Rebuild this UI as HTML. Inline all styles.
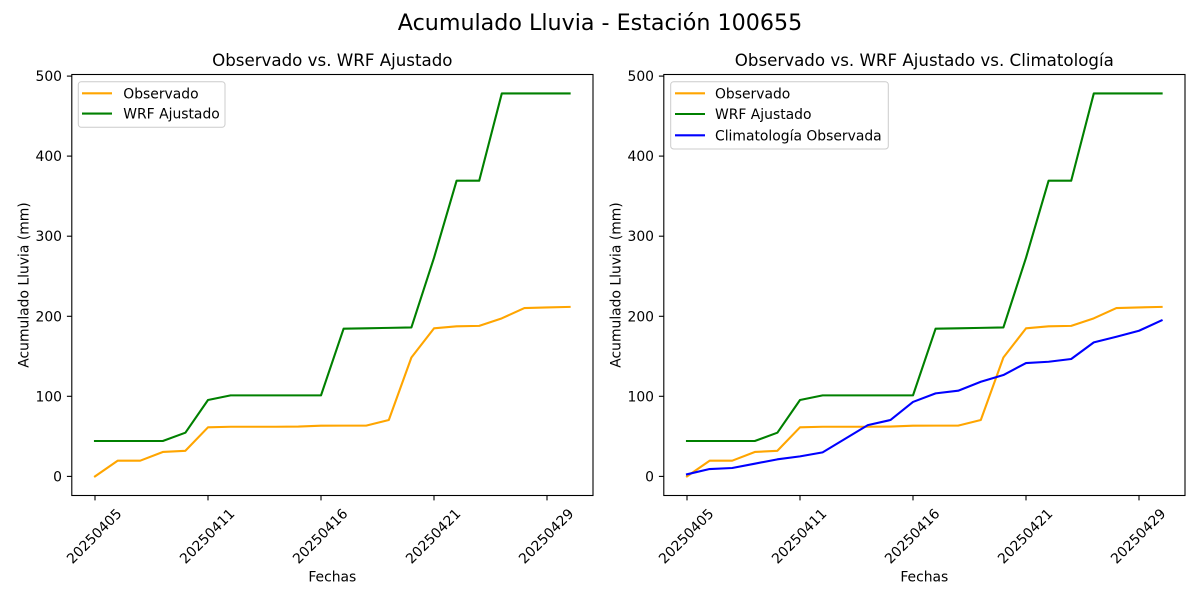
<!DOCTYPE html>
<html><head><meta charset="utf-8"><style>
html,body{margin:0;padding:0;background:#fff;}
svg{display:block;font-family:"DejaVu Sans","Liberation Sans",sans-serif;}
</style></head><body>
<svg width="1200" height="600" viewBox="0 0 1200 600" xmlns="http://www.w3.org/2000/svg">
<rect width="1200" height="600" fill="#fff"/>
<text x="600" y="30" font-size="22.2" text-anchor="middle" fill="#000">Acumulado Lluvia - Estación 100655</text>

<!-- LEFT AXES -->
<text x="332.3" y="66" font-size="16.67" text-anchor="middle">Observado vs. WRF Ajustado</text>
<defs>
<clipPath id="cl"><rect x="71.5" y="74.5" width="521.5" height="421"/></clipPath>
<clipPath id="cr"><rect x="663.5" y="74.5" width="521.5" height="421"/></clipPath>
</defs>
<g clip-path="url(#cl)">
<g transform="matrix(22.6 0 0 -0.8007 95 476.4)" fill="none" stroke-width="2.1" stroke-linejoin="round" stroke-linecap="square">
<polyline vector-effect="non-scaling-stroke" stroke="#FFA500" points="0,0 1,19.6 2,19.6 3,30.5 4,32 5,61.3 6,62 7,62 8,62 9,62.2 10,63.3 11,63.4 12,63.4 13,70.4 14,148.5 15,184.9 16,187.5 17,188 18,197.4 19,210.2 20,211 21,211.7"/>
<polyline vector-effect="non-scaling-stroke" stroke="#008000" points="0,44.2 1,44.2 2,44.2 3,44.2 4,54.6 5,95.4 6,101.2 7,101.2 8,101.2 9,101.2 10,101.2 11,184.5 12,185 13,185.5 14,186 15,273 16,369.3 17,369.3 18,478.3 19,478.3 20,478.3 21,478.3"/>
</g>
</g>
<rect x="71.8" y="74.5" width="521.2" height="421" fill="none" stroke="#000" stroke-width="1.1"/>
<g stroke="#000" stroke-width="1.1">
<line x1="95" y1="495.5" x2="95" y2="500.4"/>
<line x1="208" y1="495.5" x2="208" y2="500.4"/>
<line x1="321" y1="495.5" x2="321" y2="500.4"/>
<line x1="434" y1="495.5" x2="434" y2="500.4"/>
<line x1="547" y1="495.5" x2="547" y2="500.4"/>
<line x1="66.9" y1="476.4" x2="71.8" y2="476.4"/>
<line x1="66.9" y1="396.3" x2="71.8" y2="396.3"/>
<line x1="66.9" y1="316.3" x2="71.8" y2="316.3"/>
<line x1="66.9" y1="236.2" x2="71.8" y2="236.2"/>
<line x1="66.9" y1="156.1" x2="71.8" y2="156.1"/>
<line x1="66.9" y1="76.1" x2="71.8" y2="76.1"/>
</g>
<g font-size="13.9" text-anchor="end">
<text x="62" y="481.4">0</text>
<text x="62" y="401.3">100</text>
<text x="62" y="321.3">200</text>
<text x="62" y="241.2">300</text>
<text x="62" y="161.1">400</text>
<text x="62" y="81.1">500</text>
</g>
<g font-size="13.9" text-anchor="middle">
<text transform="translate(94,536) rotate(-45)" y="5">20250405</text>
<text transform="translate(207,536) rotate(-45)" y="5">20250411</text>
<text transform="translate(320,536) rotate(-45)" y="5">20250416</text>
<text transform="translate(433,536) rotate(-45)" y="5">20250421</text>
<text transform="translate(546,536) rotate(-45)" y="5">20250429</text>
<text x="332.3" y="581.7">Fechas</text>
<text transform="translate(28.5,285) rotate(-90)">Acumulado Lluvia (mm)</text>
</g>
<rect x="78.3" y="81.7" width="146.7" height="45.6" rx="3" fill="#fff" fill-opacity="0.8" stroke="#cccccc" stroke-width="1"/>
<line x1="82" y1="93.3" x2="112" y2="93.3" stroke="#FFA500" stroke-width="2.1"/>
<line x1="82" y1="113.6" x2="112" y2="113.6" stroke="#008000" stroke-width="2.1"/>
<g font-size="13.9">
<text x="123.3" y="98.3">Observado</text>
<text x="123.3" y="118.6">WRF Ajustado</text>
</g>

<!-- RIGHT AXES -->
<text x="924.3" y="66" font-size="16.67" text-anchor="middle">Observado vs. WRF Ajustado vs. Climatología</text>
<g clip-path="url(#cr)">
<g transform="matrix(22.6 0 0 -0.8007 687 476.4)" fill="none" stroke-width="2.1" stroke-linejoin="round" stroke-linecap="square">
<polyline vector-effect="non-scaling-stroke" stroke="#FFA500" points="0,0 1,19.6 2,19.6 3,30.5 4,32 5,61.3 6,62 7,62 8,62 9,62.2 10,63.3 11,63.4 12,63.4 13,70.4 14,148.5 15,184.9 16,187.5 17,188 18,197.4 19,210.2 20,211 21,211.7"/>
<polyline vector-effect="non-scaling-stroke" stroke="#008000" points="0,44.2 1,44.2 2,44.2 3,44.2 4,54.6 5,95.4 6,101.2 7,101.2 8,101.2 9,101.2 10,101.2 11,184.5 12,185 13,185.5 14,186 15,273 16,369.3 17,369.3 18,478.3 19,478.3 20,478.3 21,478.3"/>
<polyline vector-effect="non-scaling-stroke" stroke="#0000FF" points="0,2.6 1,9.2 2,10.5 3,15.9 4,21.3 5,25 6,30 7,47 8,64 9,70.4 10,93 11,103.7 12,107 13,118.2 14,126.6 15,141.6 16,143.2 17,146.6 18,167.4 19,174.4 20,181.9 21,194.9"/>
</g>
</g>
<rect x="663.8" y="74.5" width="521.2" height="421" fill="none" stroke="#000" stroke-width="1.1"/>
<g stroke="#000" stroke-width="1.1">
<line x1="687" y1="495.5" x2="687" y2="500.4"/>
<line x1="800" y1="495.5" x2="800" y2="500.4"/>
<line x1="913" y1="495.5" x2="913" y2="500.4"/>
<line x1="1026" y1="495.5" x2="1026" y2="500.4"/>
<line x1="1139" y1="495.5" x2="1139" y2="500.4"/>
<line x1="658.9" y1="476.4" x2="663.8" y2="476.4"/>
<line x1="658.9" y1="396.3" x2="663.8" y2="396.3"/>
<line x1="658.9" y1="316.3" x2="663.8" y2="316.3"/>
<line x1="658.9" y1="236.2" x2="663.8" y2="236.2"/>
<line x1="658.9" y1="156.1" x2="663.8" y2="156.1"/>
<line x1="658.9" y1="76.1" x2="663.8" y2="76.1"/>
</g>
<g font-size="13.9" text-anchor="end">
<text x="654" y="481.4">0</text>
<text x="654" y="401.3">100</text>
<text x="654" y="321.3">200</text>
<text x="654" y="241.2">300</text>
<text x="654" y="161.1">400</text>
<text x="654" y="81.1">500</text>
</g>
<g font-size="13.9" text-anchor="middle">
<text transform="translate(686,536) rotate(-45)" y="5">20250405</text>
<text transform="translate(799,536) rotate(-45)" y="5">20250411</text>
<text transform="translate(912,536) rotate(-45)" y="5">20250416</text>
<text transform="translate(1025,536) rotate(-45)" y="5">20250421</text>
<text transform="translate(1138,536) rotate(-45)" y="5">20250429</text>
<text x="924.3" y="581.7">Fechas</text>
<text transform="translate(620.5,285) rotate(-90)">Acumulado Lluvia (mm)</text>
</g>
<rect x="670.7" y="81.7" width="217.6" height="67.3" rx="3" fill="#fff" fill-opacity="0.8" stroke="#cccccc" stroke-width="1"/>
<line x1="675" y1="93.3" x2="705" y2="93.3" stroke="#FFA500" stroke-width="2.1"/>
<line x1="675" y1="114" x2="705" y2="114" stroke="#008000" stroke-width="2.1"/>
<line x1="675" y1="135.3" x2="705" y2="135.3" stroke="#0000FF" stroke-width="2.1"/>
<g font-size="13.9">
<text x="715" y="98.3">Observado</text>
<text x="715" y="119">WRF Ajustado</text>
<text x="715" y="140.3">Climatología Observada</text>
</g>
</svg>
</body></html>
